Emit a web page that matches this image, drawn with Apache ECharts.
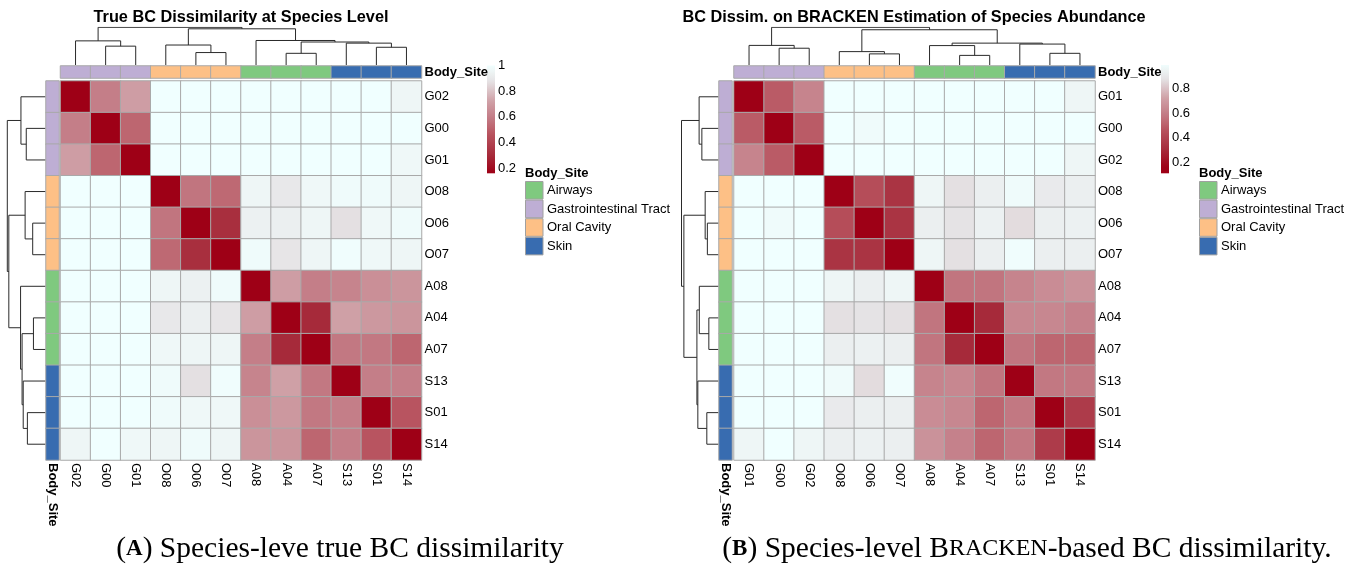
<!DOCTYPE html>
<html><head><meta charset="utf-8">
<script src="https://cdn.jsdelivr.net/npm/echarts@6/dist/echarts.min.js"></script>
<style>html,body{margin:0;padding:0;background:#fff}#c{width:1352px;height:567px}</style>
</head><body><div id="c"></div>
<script>
// ---------------- DATA ----------------
const titleA = 'True BC Dissimilarity at Species Level';
const titleB = 'BC Dissim. on BRACKEN Estimation of Species Abundance';
const captionA = '({b|A}) Species-leve true BC dissimilarity';
const captionB = '({b|B}) Species-level B{sc|RACKEN}-based BC dissimilarity.';
const annotationName = 'Body_Site';
const bodySites = ['Airways', 'Gastrointestinal Tract', 'Oral Cavity', 'Skin'];
const sitePrefix = { A: 'Airways', G: 'Gastrointestinal Tract', O: 'Oral Cavity', S: 'Skin' };

const samplesA = ['G02','G00','G01','O08','O06','O07','A08','A04','A07','S13','S01','S14'];
const bcA = [
  [0.00,0.60,0.71,1.00,1.00,1.00,1.00,1.00,1.00,1.00,1.00,0.96],
  [0.60,0.00,0.52,1.00,1.00,1.00,1.00,1.00,1.00,1.00,1.00,1.00],
  [0.71,0.52,0.00,1.00,1.00,1.00,1.00,1.00,1.00,1.00,1.00,0.97],
  [1.00,1.00,1.00,0.00,0.57,0.53,0.96,0.90,0.97,0.98,0.98,0.96],
  [1.00,1.00,1.00,0.57,0.00,0.32,0.94,0.93,0.96,0.87,0.97,0.98],
  [1.00,1.00,1.00,0.53,0.32,0.00,0.98,0.89,0.96,0.99,0.97,0.96],
  [1.00,1.00,1.00,0.96,0.94,0.98,0.00,0.71,0.60,0.62,0.66,0.68],
  [1.00,1.00,1.00,0.90,0.93,0.89,0.71,0.00,0.30,0.72,0.69,0.68],
  [1.00,1.00,1.00,0.97,0.96,0.96,0.60,0.30,0.00,0.58,0.58,0.52],
  [1.00,1.00,1.00,0.98,0.87,0.99,0.62,0.72,0.58,0.00,0.60,0.60],
  [1.00,1.00,1.00,0.98,0.97,0.97,0.66,0.69,0.58,0.60,0.00,0.47],
  [0.96,1.00,0.97,0.96,0.98,0.96,0.68,0.68,0.52,0.60,0.47,0.00]
];
// hclust-style merges: [childA, childB, height]; numbers refer to earlier merges
const mergesA = [
  ['A04','A07',0.31],
  ['O06','O07',0.33],
  ['S01','S14',0.47],
  ['G00','G01',0.50],
  ['O08',1,0.53],
  ['S13',2,0.58],
  [0,5,0.61],
  ['G02',3,0.64],
  ['A08',6,0.65],
  [4,8,0.96],
  [7,9,1.00]
];
const colorbarRangeA = [0.16, 1.0];
const colorbarTicksA = [0.2, 0.4, 0.6, 0.8, 1];

const samplesB = ['G01','G00','G02','O08','O06','O07','A08','A04','A07','S13','S01','S14'];
const bcB = [
  [0.00,0.49,0.62,1.00,1.00,1.00,1.00,1.00,1.00,1.00,1.00,0.96],
  [0.49,0.00,0.49,1.00,0.98,1.00,1.00,1.00,1.00,1.00,1.00,1.00],
  [0.62,0.49,0.00,1.00,1.00,1.00,1.00,1.00,1.00,1.00,1.00,0.96],
  [1.00,1.00,1.00,0.00,0.44,0.34,0.96,0.87,0.93,0.98,0.91,0.93],
  [1.00,0.98,1.00,0.44,0.00,0.34,0.93,0.88,0.94,0.86,0.93,0.94],
  [1.00,1.00,1.00,0.34,0.34,0.00,0.96,0.87,0.93,0.99,0.93,0.93],
  [1.00,1.00,1.00,0.96,0.93,0.96,0.00,0.57,0.57,0.62,0.65,0.67],
  [1.00,1.00,1.00,0.87,0.88,0.87,0.57,0.00,0.30,0.63,0.63,0.61],
  [1.00,1.00,1.00,0.93,0.94,0.93,0.57,0.30,0.00,0.57,0.52,0.52],
  [1.00,1.00,1.00,0.98,0.86,0.99,0.62,0.63,0.57,0.00,0.58,0.58],
  [1.00,1.00,1.00,0.91,0.93,0.93,0.65,0.63,0.52,0.58,0.00,0.37],
  [0.96,1.00,0.96,0.93,0.94,0.93,0.67,0.61,0.52,0.58,0.37,0.00]
];
const mergesB = [
  ['A04','A07',0.255],
  ['O06','O07',0.295],
  ['S01','S14',0.31],
  ['O08',1,0.355],
  ['G00','G02',0.445],
  ['A08',0,0.515],
  ['G01',4,0.52],
  ['S13',2,0.555],
  [5,7,0.58],
  [3,8,0.935],
  [6,9,1.00]
];
const colorbarRangeB = [0.11, 0.99];
const colorbarTicksB = [0.2, 0.4, 0.6, 0.8];

// ---------------- STYLE ----------------
const siteColors = { 'Airways':'#7fc97f', 'Gastrointestinal Tract':'#beaed4', 'Oral Cavity':'#fdc086', 'Skin':'#386cb0' };
const paletteStops = [[0.16,'#9e0016'],[0.30,'#a62a3a'],[0.47,'#b85460'],[0.52,'#bd6670'],[0.60,'#c47e88'],
  [0.72,'#cfa0a6'],[0.87,'#e4e0e2'],[0.90,'#e8e8ea'],[0.96,'#eef6f6'],[1.0,'#f0ffff']];
const FONT = 'Liberation Sans, Arial, Helvetica, sans-serif';
const SERIF = 'Liberation Serif, serif';
const gridLine = '#a9a9a9';

function hex(h){ return [parseInt(h.slice(1,3),16), parseInt(h.slice(3,5),16), parseInt(h.slice(5,7),16)]; }
function colorAt(v){
  if (v <= paletteStops[0][0]) return paletteStops[0][1];
  for (let i = 1; i < paletteStops.length; i++) {
    if (v <= paletteStops[i][0]) {
      const [v0,c0] = paletteStops[i-1], [v1,c1] = paletteStops[i];
      const t = (v - v0) / (v1 - v0), a = hex(c0), b = hex(c1);
      return 'rgb(' + a.map((x,k)=>Math.round(x + (b[k]-x)*t)).join(',') + ')';
    }
  }
  return paletteStops[paletteStops.length-1][1];
}
const paletteArr = []; for (let i = 0; i <= 200; i++) paletteArr.push(colorAt(i/200));

const layoutA = {hx:60.5, hy:81, hw:361, hh:379, annTop:66, annH:12, annLeft:46, annW:13, dTop:27.3, leafY:65,
  dLeft:7.3, cbX:487, cbW:8, cbTop:65.5, cbBottom:173.3, legX:525, titleX:241};
const layoutB = {hx:734, hy:81, hw:361, hh:379, annTop:66, annH:12, annLeft:719, annW:13, dTop:27.3, leafY:65,
  dLeft:681.5, cbX:1161, cbW:8, cbTop:65, cbBottom:173.3, legX:1199, titleX:914};

const grids = [], xAxes = [], yAxes = [], series = [], graphics = [];
const heatIdx = [], annIdx = [];
const noAxis = {axisLine:{show:false}, axisTick:{show:false}, splitLine:{show:false}};

function dendroSegs(merges, samples){
  const pos = {}; samples.forEach((s,i)=>pos[s] = i + 0.5);
  const nodes = [], segs = [];
  const get = r => typeof r === 'number' ? nodes[r] : {x: pos[r], h: 0};
  merges.forEach(([a,b,h]) => {
    const A = get(a), B = get(b);
    segs.push([[A.x,A.h],[A.x,h],[B.x,h],[B.x,B.h]]);
    nodes.push({x:(A.x+B.x)/2, h});
  });
  return segs;
}

function addPanel(L, samples, mat, merges, cbRange, cbTicks, title){
  const n = samples.length;
  const siteIdx = samples.map(s => bodySites.indexOf(sitePrefix[s[0]]));
  // main heatmap
  let g = grids.length; grids.push({left:L.hx, top:L.hy, width:L.hw, height:L.hh});
  xAxes.push(Object.assign({type:'category', gridIndex:g, data:samples, position:'bottom',
    axisLabel:{rotate:-90, margin:3, fontSize:13, color:'#000', interval:0, fontFamily:FONT}}, noAxis));
  yAxes.push(Object.assign({type:'category', gridIndex:g, data:samples, inverse:true, position:'right',
    axisLabel:{margin:3, fontSize:13, color:'#000', interval:0, fontFamily:FONT}}, noAxis));
  const hd = [];
  for (let r = 0; r < n; r++) for (let c = 0; c < n; c++) hd.push([c, r, mat[r][c]]);
  heatIdx.push(series.length);
  series.push({type:'heatmap', xAxisIndex:xAxes.length-1, yAxisIndex:yAxes.length-1, data:hd,
    itemStyle:{borderColor:gridLine, borderWidth:1}, emphasis:{disabled:true}, animation:false});
  // top annotation
  g = grids.length; grids.push({left:L.hx, top:L.annTop, width:L.hw, height:L.annH});
  xAxes.push(Object.assign({type:'category', gridIndex:g, data:samples, axisLabel:{show:false}}, noAxis));
  yAxes.push(Object.assign({type:'category', gridIndex:g, data:[annotationName], position:'right',
    axisLabel:{margin:3, fontSize:13, fontWeight:'bold', color:'#000', fontFamily:FONT}}, noAxis));
  annIdx.push(series.length);
  series.push({type:'heatmap', xAxisIndex:xAxes.length-1, yAxisIndex:yAxes.length-1,
    data:siteIdx.map((v,i)=>[i,0,v]), itemStyle:{borderColor:gridLine, borderWidth:1}, emphasis:{disabled:true}, animation:false});
  // left annotation
  g = grids.length; grids.push({left:L.annLeft, top:L.hy, width:L.annW, height:L.hh});
  xAxes.push(Object.assign({type:'category', gridIndex:g, data:[annotationName], position:'bottom',
    axisLabel:{rotate:-90, margin:3, fontSize:13, fontWeight:'bold', color:'#000', fontFamily:FONT}}, noAxis));
  yAxes.push(Object.assign({type:'category', gridIndex:g, data:samples, inverse:true, axisLabel:{show:false}}, noAxis));
  annIdx.push(series.length);
  series.push({type:'heatmap', xAxisIndex:xAxes.length-1, yAxisIndex:yAxes.length-1,
    data:siteIdx.map((v,i)=>[0,i,v]), itemStyle:{borderColor:gridLine, borderWidth:1}, emphasis:{disabled:true}, animation:false});
  // dendrograms
  const segs = dendroSegs(merges, samples);
  const rootH = merges[merges.length-1][2];
  const lineStyle = {color:'#2a2a2a', width:1, opacity:1};
  g = grids.length; grids.push({left:L.hx, top:L.dTop, width:L.hw, height:L.leafY - L.dTop});
  xAxes.push({type:'value', gridIndex:g, min:0, max:n, show:false});
  yAxes.push({type:'value', gridIndex:g, min:0, max:rootH, show:false});
  series.push({type:'lines', coordinateSystem:'cartesian2d', xAxisIndex:xAxes.length-1, yAxisIndex:yAxes.length-1,
    polyline:true, silent:true, animation:false, lineStyle, data:segs.map(c=>({coords:c}))});
  g = grids.length; grids.push({left:L.dLeft, top:L.hy, width:L.annLeft - 0.8 - L.dLeft, height:L.hh});
  xAxes.push({type:'value', gridIndex:g, min:0, max:rootH, inverse:true, show:false});
  yAxes.push({type:'value', gridIndex:g, min:0, max:n, inverse:true, show:false});
  series.push({type:'lines', coordinateSystem:'cartesian2d', xAxisIndex:xAxes.length-1, yAxisIndex:yAxes.length-1,
    polyline:true, silent:true, animation:false, lineStyle, data:segs.map(c=>({coords:c.map(p=>[p[1],p[0]])}))});
  // colorbar axis
  g = grids.length; grids.push({left:L.cbX, top:L.cbTop, width:L.cbW, height:L.cbBottom - L.cbTop});
  xAxes.push({type:'value', gridIndex:g, min:0, max:1, show:false});
  yAxes.push(Object.assign({type:'value', gridIndex:g, min:cbRange[0], max:cbRange[1], position:'right',
    axisLabel:{customValues:cbTicks, margin:3, fontSize:13, color:'#000', fontFamily:FONT,
      formatter:v=>String(Math.round(v*10)/10)}}, noAxis));
  const stops = [];
  for (let k = 0; k <= 40; k++) stops.push({offset:k/40, color:colorAt(cbRange[1] - k/40*(cbRange[1]-cbRange[0]))});
  graphics.push({type:'rect', shape:{x:L.cbX, y:L.cbTop, width:L.cbW, height:L.cbBottom - L.cbTop},
    style:{fill:new echarts.graphic.LinearGradient(0,0,0,1,stops)}, silent:true});
  // legend
  graphics.push({type:'text', x:L.legX, y:173, style:{text:annotationName, fontSize:13, fontWeight:'bold',
    fontFamily:FONT, fill:'#000', verticalAlign:'middle'}});
  bodySites.forEach((s,i)=>{
    const y = 181 + i*18.6;
    graphics.push({type:'rect', shape:{x:L.legX+0.5, y:y+0.5, width:17.5, height:17.6},
      style:{fill:siteColors[s], stroke:'#a0a0a0', lineWidth:1}});
    graphics.push({type:'text', x:L.legX+22, y:y+9.5, style:{text:s, fontSize:13, fontFamily:FONT, fill:'#000', verticalAlign:'middle'}});
  });
  // title
  graphics.push({type:'text', x:L.titleX, y:18, style:{text:title, fontSize:16.3, fontWeight:'bold', fontFamily:FONT,
    fill:'#000', align:'center', verticalAlign:'middle'}});
}

addPanel(layoutA, samplesA, bcA, mergesA, colorbarRangeA, colorbarTicksA, titleA);
addPanel(layoutB, samplesB, bcB, mergesB, colorbarRangeB, colorbarTicksB, titleB);

const capRich = {b:{fontWeight:'bold', fontSize:23, fontFamily:SERIF}, sc:{fontSize:24, fontFamily:SERIF}};
graphics.push({type:'text', x:340, y:549, style:{text:captionA, rich:capRich, fontSize:29.5, fontFamily:SERIF, fill:'#000', align:'center', verticalAlign:'middle'}});
graphics.push({type:'text', x:1027, y:549, style:{text:captionB, rich:capRich, fontSize:29.5, fontFamily:SERIF, fill:'#000', align:'center', verticalAlign:'middle'}});

const chart = echarts.init(document.getElementById('c'), null, {renderer:'canvas'});
chart.setOption({
  animation:false,
  backgroundColor:'#fff',
  textStyle:{fontFamily:FONT},
  grid:grids, xAxis:xAxes, yAxis:yAxes, series,
  visualMap:[
    {type:'continuous', show:false, min:0, max:1, dimension:2, seriesIndex:heatIdx, inRange:{color:paletteArr}},
    {type:'piecewise', show:false, dimension:2, seriesIndex:annIdx,
      pieces:bodySites.map((s,i)=>({value:i, color:siteColors[s]}))}
  ],
  graphic:graphics
});
</script></body></html>
